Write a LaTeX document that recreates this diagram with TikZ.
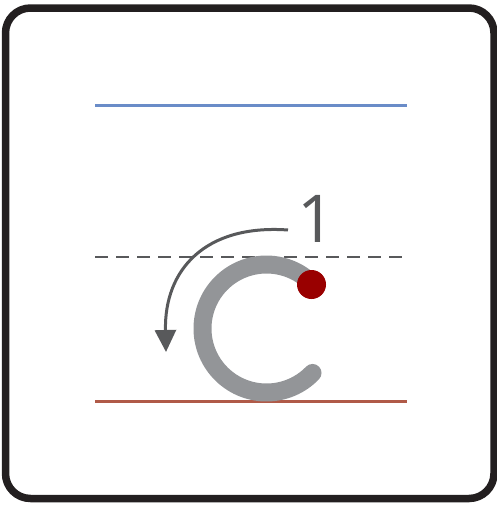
\documentclass[tikz,border=0pt]{standalone}
\usepackage{fontspec}
\setmainfont{Open Sans}
\usetikzlibrary{arrows.meta}

\definecolor{frameblack}{HTML}{231F20}
\definecolor{topblue}{HTML}{6A8CC8}
\definecolor{basered}{HTML}{B05A48}
\definecolor{midgray}{HTML}{58595B}
\definecolor{lettergray}{HTML}{939598}
\definecolor{startred}{HTML}{990000}

\tikzset{
  guide/.style = {line width=3pt},
  midguide/.style = {line width=2pt, midgray, dash pattern=on 13pt off 8pt},
  stroke/.style = {line width=18pt, lettergray, line cap=round},
  motion/.style = {line width=3pt, midgray, -{Triangle[length=22pt,width=21pt]}}
}

\begin{document}
\begin{tikzpicture}[x=1pt,y=-1pt]
  \useasboundingbox (0,0) rectangle (497,506);
  % frame
  \draw[frameblack, line width=7.5pt, rounded corners=25pt] (5.5,8) rectangle (494,498.5);
  % guide lines
  \coordinate (topL) at (95,105);
  \coordinate (topR) at (407,105);
  \coordinate (midL) at (95,257);
  \coordinate (midR) at (407,257);
  \coordinate (botL) at (95,401);
  \coordinate (botR) at (407,401);
  \draw[guide, topblue] (topL) -- (topR);
  \draw[midguide] (midL) -- (midR);
  \draw[guide, basered] (botL) -- (botR);
  % letter c
  \coordinate (cc) at (266.5,328.5);
  \draw[stroke] (cc) ++(44:64) arc[start angle=44, end angle=316, radius=64];
  \node[circle, fill=startred, minimum size=29pt, inner sep=0pt] (start) at (311.5,284.5) {};
  % stroke direction
  \coordinate (arrS) at (288,230);
  \coordinate (arrE) at (166,352);
  \draw[motion] (arrS) .. controls (205,224) and (164,270) .. (arrE);
  \node[midgray, font=\fontsize{66}{66}\selectfont, inner sep=0pt] (num) at (316,219) {1};
\end{tikzpicture}
\end{document}
